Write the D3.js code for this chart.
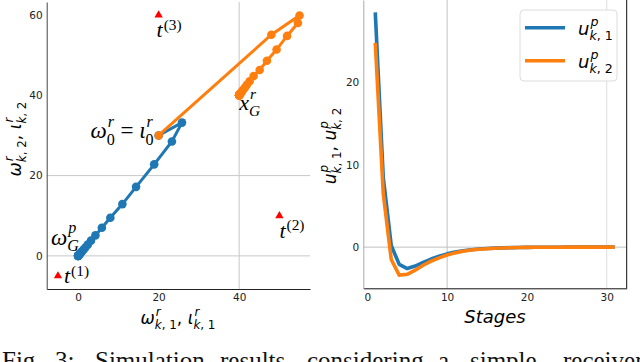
<html lang="en">
<head>
  <meta charset="UTF-8">
  <title>Simulation results</title>
  <script src="https://d3js.org/d3.v7.min.js"></script>
  <style>
    body { margin: 0; background: white; }
    svg { display: block; }
    svg text { white-space: pre; }
  </style>
</head>
<body>
  <svg class="fig" width="640" height="362"></svg>
  <script>
    // left panel: trajectories (x, y) of the two agents
    const blueX = [20, 25.8, 23.3, 18.9, 14.4, 11.0, 8.0, 5.9, 4.3, 3.2, 2.4, 1.8, 1.35, 1.0, 0.75, 0.56, 0.42, 0.31, 0.23, 0.17, 0.13, 0.1, 0.07, 0.05, 0.04, 0.03, 0.02, 0.015, 0.01, 0.01, 0, 0];
    const blueY = [30, 33.2, 28.5, 22.8, 17.2, 12.9, 9.5, 7.0, 5.1, 3.8, 2.8, 2.1, 1.55, 1.15, 0.85, 0.64, 0.48, 0.36, 0.27, 0.2, 0.15, 0.11, 0.08, 0.06, 0.045, 0.03, 0.02, 0.015, 0.01, 0.01, 0, 0];
    const orangeX = [20, 48.0, 55.0, 54.6, 51.9, 49.3, 46.9, 45.1, 43.6, 42.6, 41.9, 41.4, 41.0, 40.75, 40.55, 40.4, 40.3, 40.22, 40.16, 40.12, 40.09, 40.06, 40.05, 40.03, 40.02, 40.02, 40.01, 40.01, 40, 40, 40, 40];
    const orangeY = [30, 55.1, 59.9, 58.0, 54.8, 51.4, 48.6, 46.3, 44.8, 43.5, 42.6, 41.9, 41.4, 41.05, 40.8, 40.6, 40.45, 40.33, 40.25, 40.18, 40.13, 40.1, 40.07, 40.05, 40.04, 40.03, 40.02, 40.01, 40.01, 40, 40, 40];
    const targetX = [-5, 50, 20];
    const targetY = [-5, 10, 60];
    const leftXTicks = [0, 20, 40];
    const leftYTicks = [0, 20, 40, 60];

    // right panel: inputs per stage
    const stages = d3.range(1, 32);
    const u1 = [28.5, 8.5, 0.2, -2.1, -2.6, -2.3, -1.85, -1.45, -1.1, -0.82, -0.6, -0.44, -0.32, -0.23, -0.17, -0.12, -0.09, -0.06, -0.045, -0.03, -0.02, -0.015, -0.01, -0.008, -0.005, -0.004, -0.003, -0.002, -0.001, -0.001, 0];
    const u2 = [24.8, 6.5, -1.5, -3.4, -3.3, -2.8, -2.2, -1.7, -1.3, -0.95, -0.7, -0.5, -0.36, -0.26, -0.19, -0.14, -0.1, -0.07, -0.05, -0.035, -0.025, -0.018, -0.012, -0.009, -0.006, -0.004, -0.003, -0.002, -0.001, -0.001, 0];
    const rightXTicks = [0, 10, 20, 30];
    const rightYTicks = [0, 10, 20];

    const captionWords = ["Fig.", "3:", "Simulation", "results", "considering", "a", "simple", "receiver"];
    const captionX = [2, 55, 95, 220, 307, 438, 470, 563];

    const blue = "#1f77b4", orange = "#ff7f0e";
    const sans = "DejaVu Sans", serif = "Liberation Serif";

    const svg = d3.select("svg.fig");

    // letters italic, digits and punctuation upright (like mathtext)
    function styled(text, str) {
      str.match(/[A-Za-z\u03b9\u03c9]+|[^A-Za-z\u03b9\u03c9]+/g).forEach(tok => {
        text.append("tspan")
          .attr("font-style", /[A-Za-z\u03b9\u03c9]/.test(tok) ? "italic" : "normal")
          .text(tok);
      });
      return text;
    }

    function mathText(parent, pieces, size, family, anchor) {
      const g = parent.append("g").attr("font-family", family).attr("fill", "#000");
      let cx = 0;
      pieces.forEach(p => {
        const t = styled(g.append("text").attr("x", cx).attr("font-size", size), p.b);
        cx += t.node().getComputedTextLength();
        let ws = 0;
        if (p.sup) {
          const raise = p.sub ? 0.5 : 0.33;
          const s = styled(g.append("text").attr("x", cx + 1).attr("y", -size * raise).attr("font-size", size * 0.7), p.sup);
          ws = s.node().getComputedTextLength() + 1;
        }
        if (p.sub) {
          const s = styled(g.append("text").attr("x", cx).attr("y", size * 0.27).attr("font-size", size * 0.7), p.sub);
          ws = Math.max(ws, s.node().getComputedTextLength());
        }
        cx += ws;
      });
      if (anchor === "middle") g.attr("transform", `translate(${-cx / 2},0)`);
      if (anchor === "end") g.attr("transform", `translate(${-cx},0)`);
      return g;
    }

    // ---------- left panel ----------
    const lx = d3.scaleLinear().domain([-7.8, 57.6]).range([46.7, 310]);
    const ly = d3.scaleLinear().domain([-8.25, 63.25]).range([289, 2]);
    const left = svg.append("g");

    left.selectAll("line.hg").data([0, 20]).join("line")
      .attr("x1", 46.7).attr("x2", 310).attr("y1", d => ly(d)).attr("y2", d => ly(d))
      .attr("stroke", "#c8c8c8").attr("stroke-width", 1);
    left.selectAll("line.vg").data([40]).join("line")
      .attr("x1", d => lx(d)).attr("x2", d => lx(d)).attr("y1", 2).attr("y2", 289)
      .attr("stroke", "#c8c8c8").attr("stroke-width", 1);

    const lAxisX = left.append("g").attr("transform", "translate(0,289)")
      .call(d3.axisBottom(lx).tickValues(leftXTicks).tickSize(0).tickPadding(5));
    const lAxisY = left.append("g").attr("transform", "translate(46.7,0)")
      .call(d3.axisLeft(ly).tickValues(leftYTicks).tickSize(0).tickPadding(4));
    lAxisX.select(".domain").attr("stroke", "#222");
    lAxisY.select(".domain").attr("stroke", "#444");
    left.selectAll(".tick text").attr("font-family", sans).attr("font-size", 10.5).attr("fill", "#222");

    const traj = d3.line().x(d => lx(d[0])).y(d => ly(d[1]));
    const bluePts = blueX.map((v, i) => [v, blueY[i]]);
    const orangePts = orangeX.map((v, i) => [v, orangeY[i]]);

    [[bluePts, blue], [orangePts, orange]].forEach(([pts, c]) => {
      left.append("path").datum(pts).attr("d", traj)
        .attr("fill", "none").attr("stroke", c).attr("stroke-width", 3);
      left.append("g").selectAll("circle").data(pts).join("circle")
        .attr("cx", d => lx(d[0])).attr("cy", d => ly(d[1])).attr("r", 4.3).attr("fill", c);
    });

    left.append("g").selectAll("path").data(targetX.map((v, i) => [v, targetY[i]])).join("path")
      .attr("d", d3.symbol(d3.symbolTriangle, 30))
      .attr("transform", d => `translate(${lx(d[0])},${ly(d[1])})`)
      .attr("fill", "#ff0000");

    // annotations
    function note(pieces, px, py, size, anchor) {
      mathText(left.append("g").attr("transform", `translate(${px},${py})`), pieces, size, serif, anchor);
    }
    note([{ b: "t", sup: "(3)" }], lx(20) - 2, ly(60) + 22, 22);
    note([{ b: "t", sup: "(2)" }], lx(50), ly(10) + 22, 22);
    note([{ b: "t", sup: "(1)" }], lx(-5) + 6, ly(-5) + 7, 22);
    note([{ b: "x", sup: "r", sub: "G" }], lx(40), ly(40) + 15, 22);
    note([{ b: "\u03c9", sup: "p", sub: "G" }], lx(0) - 27, ly(0) - 11, 23);
    note([{ b: "\u03c9", sup: "r", sub: "0" }, { b: " = " }, { b: "\u03b9", sup: "r", sub: "0" }], lx(20) - 5, ly(30) + 3, 23, "end");

    mathText(left.append("g").attr("transform", "translate(178,324)"),
      [{ b: "\u03c9", sup: "r", sub: "k, 1" }, { b: ", " }, { b: "\u03b9", sup: "r", sub: "k, 1" }], 17, sans, "middle");
    mathText(left.append("g").attr("transform", "translate(21,139) rotate(-90)"),
      [{ b: "\u03c9", sup: "r", sub: "k, 2" }, { b: ", " }, { b: "\u03b9", sup: "r", sub: "k, 2" }], 17, sans, "middle");

    // ---------- right panel ----------
    const rx = d3.scaleLinear().domain([-0.5, 32.5]).range([363.3, 626.7]);
    const ry = d3.scaleLinear().domain([-5, 30]).range([288.3, 0]);
    const right = svg.append("g");

    right.selectAll("line.vg").data([10, 30]).join("line")
      .attr("x1", d => rx(d)).attr("x2", d => rx(d)).attr("y1", 0).attr("y2", 288.3)
      .attr("stroke", (d, i) => i ? "#dedede" : "#c0c0c0").attr("stroke-width", 1);
    right.selectAll("line.hg").data([0]).join("line")
      .attr("x1", 363.3).attr("x2", 626.7).attr("y1", d => ry(d)).attr("y2", d => ry(d))
      .attr("stroke", "#c0c0c0").attr("stroke-width", 1);

    const rAxisX = right.append("g").attr("transform", "translate(0,288.3)")
      .call(d3.axisBottom(rx).tickValues(rightXTicks).tickSize(0).tickPadding(5));
    const rAxisY = right.append("g").attr("transform", "translate(363.3,0)")
      .call(d3.axisLeft(ry).tickValues(rightYTicks).tickSize(0).tickPadding(4));
    rAxisX.select(".domain").attr("stroke", "#111");
    rAxisY.select(".domain").attr("stroke", "#aaa");
    right.append("line").attr("x1", 626.7).attr("x2", 626.7).attr("y1", 0).attr("y2", 288.3)
      .attr("stroke", "#111");
    right.selectAll(".tick text").attr("font-family", sans).attr("font-size", 10.5).attr("fill", "#222");

    const uline = d3.line().x((d, i) => rx(stages[i])).y(d => ry(d));
    [[u1, blue], [u2, orange]].forEach(([vals, c]) => {
      right.append("path").datum(vals).attr("d", uline)
        .attr("fill", "none").attr("stroke", c).attr("stroke-width", 3.6).attr("stroke-linejoin", "round");
    });

    // legend
    const leg = right.append("g");
    leg.append("rect").attr("x", 520).attr("y", 10).attr("width", 97).attr("height", 71).attr("rx", 4)
      .attr("fill", "white").attr("fill-opacity", 0.85).attr("stroke", "#dcdcdc");
    [[blue, "k, 1", 27.7], [orange, "k, 2", 60.7]].forEach(([c, sub, yy]) => {
      leg.append("line").attr("x1", 525).attr("x2", 565).attr("y1", yy).attr("y2", yy)
        .attr("stroke", c).attr("stroke-width", 3.6);
      mathText(leg.append("g").attr("transform", `translate(578,${yy + 7.5})`),
        [{ b: "u", sup: "p", sub: sub }], 18, sans);
    });

    mathText(right.append("g").attr("transform", "translate(336,146) rotate(-90)"),
      [{ b: "u", sup: "p", sub: "k, 1" }, { b: ", " }, { b: "u", sup: "p", sub: "k, 2" }], 17, sans, "middle");
    right.append("text").attr("x", 495).attr("y", 323).attr("text-anchor", "middle")
      .attr("font-family", sans).attr("font-style", "italic").attr("font-size", 18).text("Stages");

    // caption (cut off by the crop)
    svg.append("g").selectAll("text").data(captionWords).join("text")
      .attr("x", (d, i) => captionX[i]).attr("y", 369)
      .attr("font-family", serif).attr("font-size", 25).attr("fill", "#111")
      .text(d => d);
  </script>
</body>
</html>
